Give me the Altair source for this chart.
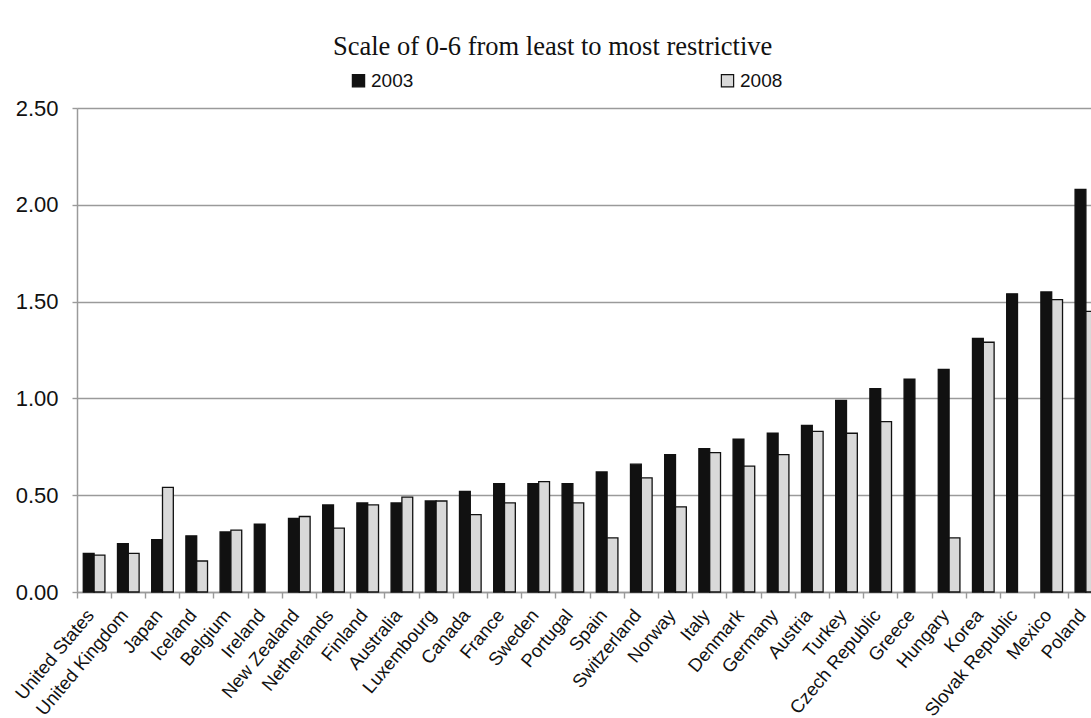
import altair as alt
import pandas as pd

# Restrictiveness index by country, 2003 vs 2008 (0 = least, 6 = most restrictive)
countries = [
    "United States", "United Kingdom", "Japan", "Iceland", "Belgium", "Ireland",
    "New Zealand", "Netherlands", "Finland", "Australia", "Luxembourg", "Canada",
    "France", "Sweden", "Portugal", "Spain", "Switzerland", "Norway", "Italy",
    "Denmark", "Germany", "Austria", "Turkey", "Czech Republic", "Greece",
    "Hungary", "Korea", "Slovak Republic", "Mexico", "Poland",
]
values_2003 = [
    0.20, 0.25, 0.27, 0.29, 0.31, 0.35, 0.38, 0.45, 0.46, 0.46, 0.47, 0.52,
    0.56, 0.56, 0.56, 0.62, 0.66, 0.71, 0.74, 0.79, 0.82, 0.86, 0.99, 1.05,
    1.10, 1.15, 1.31, 1.54, 1.55, 2.08,
]
values_2008 = [
    0.19, 0.20, 0.54, 0.16, 0.32, None, 0.39, 0.33, 0.45, 0.49, 0.47, 0.40,
    0.46, 0.57, 0.46, 0.28, 0.59, 0.44, 0.72, 0.65, 0.71, 0.83, 0.82, 0.88,
    None, 0.28, 1.29, None, 1.51, 1.45,
]
years = ["2003", "2008"]
y_ticks = [0.0, 0.5, 1.0, 1.5, 2.0, 2.5]

rows = []
for name, a, b in zip(countries, values_2003, values_2008):
    rows.append({"country": name, "year": years[0], "value": a})
    if b is not None:
        rows.append({"country": name, "year": years[1], "value": b})
df = pd.DataFrame(rows)

FONT = "Liberation Sans"
GRID = "#9a9a9a"

# Category band scale runs a little past the right edge of the view
x_scale = alt.Scale(domain=countries, range=[0, 1026], paddingInner=0, paddingOuter=0)

bars = alt.Chart(df).mark_bar(stroke="#111111", strokeWidth=1.3).encode(
    x=alt.X(
        "country:N",
        sort=countries,
        scale=x_scale,
        axis=alt.Axis(
            orient="bottom",
            title=None,
            labelAngle=-50,
            labelAlign="right",
            labelBaseline="bottom",
            labelFont=FONT,
            labelFontSize=18.5,
            labelColor="#111111",
            labelPadding=26,
            labelOffset=4,
            labelOverlap=False,
            ticks=False,
            domain=True,
            domainColor=GRID,
            domainWidth=1.5,
            grid=False,
        ),
    ),
    xOffset=alt.XOffset(
        "year:N", sort=years, scale=alt.Scale(paddingInner=0, paddingOuter=0.58)
    ),
    y=alt.Y(
        "value:Q",
        scale=alt.Scale(domain=[0, 2.5], nice=False),
        axis=alt.Axis(
            title=None,
            values=y_ticks,
            format=".2f",
            grid=True,
            gridColor=GRID,
            gridWidth=1.4,
            domainColor=GRID,
            domainWidth=1.5,
            tickColor=GRID,
            tickWidth=1.4,
            tickSize=5,
            labelFont=FONT,
            labelFontSize=22,
            labelColor="#111111",
            labelPadding=14,
        ),
    ),
    color=alt.Color(
        "year:N",
        sort=years,
        scale=alt.Scale(domain=years, range=["#111111", "#d9d9d9"]),
        legend=alt.Legend(
            title=None,
            orient="none",
            direction="horizontal",
            legendX=272,
            legendY=-37,
            symbolType="square",
            symbolSize=150,
            symbolStrokeColor="#111111",
            symbolStrokeWidth=1.2,
            labelFont=FONT,
            labelFontSize=19,
            labelColor="#111111",
            labelOffset=3,
            columnPadding=304,
        ),
    ),
)

# Boundary tick marks between the country groups
tick_layer = alt.Chart(df).mark_bar(opacity=0).encode(
    x=alt.X(
        "country:N",
        sort=countries,
        scale=x_scale,
        axis=alt.Axis(
            orient="bottom",
            title=None,
            labels=False,
            ticks=True,
            tickColor=GRID,
            tickWidth=1.4,
            tickSize=6,
            bandPosition=0,
            domain=False,
            grid=False,
        ),
    ),
)

chart = (
    alt.layer(bars, tick_layer)
    .resolve_axis(x="independent")
    .properties(
        width=1014,
        height=484,
        autosize=alt.AutoSizeParams(type="none"),
        padding={"left": 77, "top": 108, "right": 0, "bottom": 126},
        title=alt.TitleParams(
            text="Scale of 0-6 from least to most restrictive",
            font="Liberation Serif",
            fontSize=26.5,
            fontWeight="normal",
            color="#111111",
            anchor="start",
            frame="group",
            dx=256,
            offset=11,
        ),
    )
    .configure_view(stroke=None)
    .configure(background="white")
)

chart.save("out.html", embed_options={"renderer": "svg", "actions": False})
